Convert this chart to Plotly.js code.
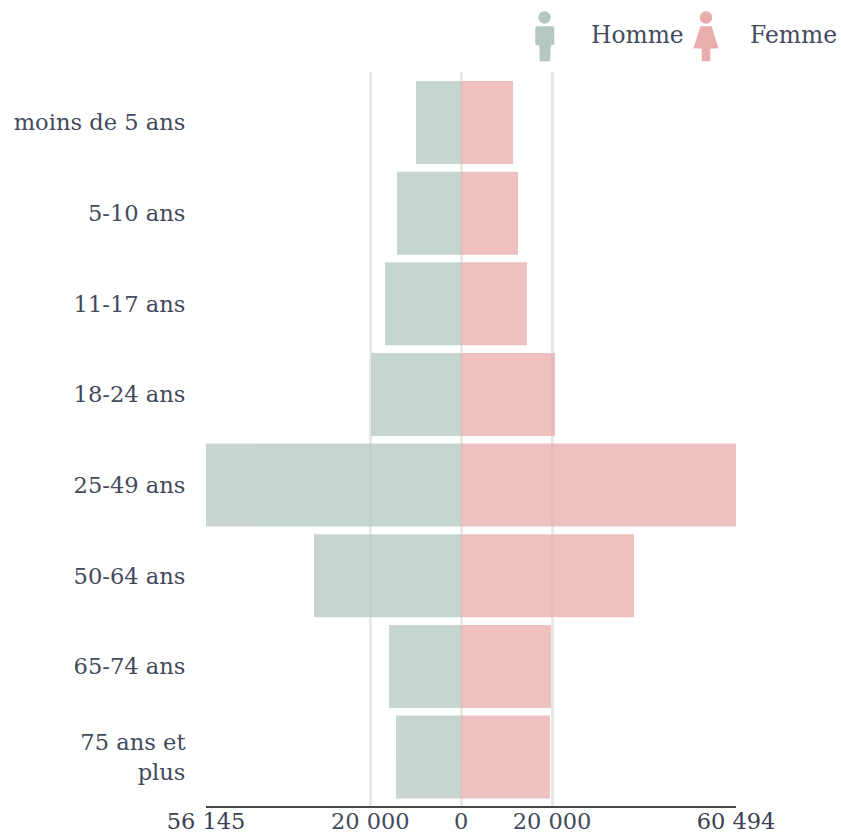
<!DOCTYPE html>
<html><head><meta charset="utf-8">
<script src="https://cdn.plot.ly/plotly-3.0.1.min.js"></script>
<style>html,body{margin:0;padding:0;background:#fff}#c{width:841px;height:834px}</style>
</head><body><div id="c"></div>
<script>
const categories = ['moins de 5 ans','5-10 ans','11-17 ans','18-24 ans','25-49 ans','50-64 ans','65-74 ans','75 ans et<br>plus'];
const homme = [9925,14106,16747,19828,56145,32373,15867,14327];
const femme = [11422,12522,14503,20665,60494,38050,19784,19564];
const tickVals = [-56145,-20000,0,20000,60494];
const tickText = ['<span style="fill:#3a4152">56 145</span>','20 000','0','20 000','<span style="fill:#3a4152">60 494</span>'];
const seriesNames = ['Homme','Femme'];
const colors = ['#b5c7c3','#e9adac'];
const W=841,H=834;
const FONT='"DejaVu Serif", serif', TXT='#434a5c';
const l=206,r=105,t=72,b=28;
const px=x=>(x-l)/(W-l-r), py=y=>1-(y-t)/(H-t-b);
const p=(pts)=>pts.map((q,i)=>(i?'L':'M')+px(q[0]).toFixed(5)+','+py(q[1]).toFixed(5)).join(' ')+' Z';
function circle(cx,cy,rr,c){return {type:'circle',xref:'paper',yref:'paper',x0:px(cx-rr),x1:px(cx+rr),y0:py(cy+rr),y1:py(cy-rr),fillcolor:c,line:{width:0}};}
function poly(pts,c){return {type:'path',xref:'paper',yref:'paper',path:p(pts),fillcolor:c,line:{color:c,width:1.5}};}
const shapes=[
 circle(544.5,17.5,6.2,colors[0]),
 poly([[537,27],[552.5,27],[553.5,28],[553.5,44],[550,45],[549.5,60.5],[540.5,60.5],[540,45],[536,44],[536,28]],colors[0]),
 circle(706,17.5,6.2,colors[1]),
 poly([[701,27],[711,27],[717.5,47.5],[709.5,48],[709.5,60.5],[702.5,60.5],[702.5,48],[694.5,47.5]],colors[1])
];
const ann=(x,y,text)=>({xref:'paper',yref:'paper',x:px(x),y:py(y),text,showarrow:false,xanchor:'left',yanchor:'middle',borderpad:0,borderwidth:0,font:{family:FONT,size:23.4,color:TXT}});
const traces=[
 {type:'bar',orientation:'h',name:seriesNames[0],y:categories,x:homme.map(v=>-v),marker:{color:colors[0],line:{width:0}},opacity:0.75,hoverinfo:'skip'},
 {type:'bar',orientation:'h',name:seriesNames[1],y:categories,x:femme,marker:{color:colors[1],line:{width:0}},opacity:0.75,hoverinfo:'skip'}
];
const layout={
 width:W,height:H,showlegend:false,barmode:'relative',bargap:0.084,
 paper_bgcolor:'#fff',plot_bgcolor:'#fff',
 margin:{l,r,t,b,pad:0},
 font:{family:FONT,color:TXT},
 xaxis:{range:[-56145,60494],fixedrange:true,tickmode:'array',tickvals:tickVals,ticktext:tickText,
   showgrid:true,gridcolor:'#e8e8e8',gridwidth:3,zeroline:true,zerolinecolor:'#e8e8e8',zerolinewidth:3,
   showline:true,linecolor:'#48484c',linewidth:2,ticks:'',ticklabelstandoff:-6,tickfont:{family:FONT,size:22.5,color:TXT},automargin:false},
 yaxis:{type:'category',categoryorder:'array',categoryarray:categories,range:[7.54,-0.557],fixedrange:true,
   showgrid:false,zeroline:false,showline:false,ticks:'outside',ticklen:15,tickcolor:'rgba(0,0,0,0)',tickwidth:0,
   tickfont:{family:FONT,size:22.6,color:TXT},automargin:false},
 shapes,
 annotations:[ann(591,35,seriesNames[0]),ann(750,35,seriesNames[1])]
};
Plotly.newPlot('c',traces,layout,{displayModeBar:false,staticPlot:true});
</script></body></html>
